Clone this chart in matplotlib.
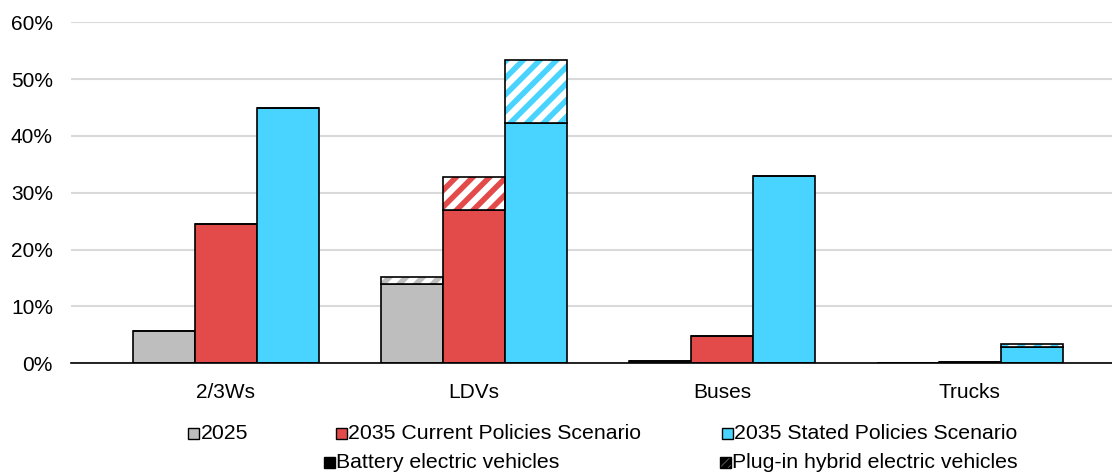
import numpy as np
import matplotlib.pyplot as plt
from matplotlib.patches import Rectangle
from matplotlib.ticker import PercentFormatter

plt.rcParams['font.family'] = ['Liberation Sans', 'DejaVu Sans']
plt.rcParams['hatch.linewidth'] = 4.0

categories = ["2/3Ws", "LDVs", "Buses", "Trucks"]
series = ["2025", "2035 Current Policies Scenario", "2035 Stated Policies Scenario"]
colors = ["#bebebe", "#e24b4a", "#48d4fe"]

# share of sales, %
bev = {
    "2025": [5.6, 13.9, 0.45, 0.1],
    "2035 Current Policies Scenario": [24.5, 27.0, 4.8, 0.15],
    "2035 Stated Policies Scenario": [44.9, 42.3, 32.9, 2.9],
}
phev = {
    "2025": [0.0, 1.2, 0.0, 0.0],
    "2035 Current Policies Scenario": [0.0, 5.8, 0.0, 0.0],
    "2035 Stated Policies Scenario": [0.0, 11.1, 0.0, 0.5],
}

W, H = 1112, 473
fig = plt.figure(figsize=(W / 100, H / 100), dpi=100)
ax = fig.add_axes([71 / W, 1 - 363.3 / H, 1 - 71 / W, (363.3 - 22.3) / H])

x = np.arange(len(categories))
width = 0.25
for i, s in enumerate(series):
    pos = x + (i - 1) * width
    ax.bar(pos, bev[s], width, color=colors[i], edgecolor="black", linewidth=1.2, zorder=3)
    # hatched PHEV part: stripes in series colour, then black outline
    ax.bar(pos, phev[s], width, bottom=bev[s], color="white", edgecolor=colors[i],
           hatch="//", linewidth=0, zorder=3)
    ax.bar(pos, phev[s], width, bottom=bev[s], fill=False, edgecolor="black",
           linewidth=1.2, zorder=4)

ax.set_xlim(-0.625, 3.573)
ax.set_ylim(0, 60)
ax.set_yticks(np.arange(0, 61, 10))
ax.yaxis.set_major_formatter(PercentFormatter(decimals=0))
ax.set_xticks(x)
ax.set_xticklabels(categories)
ax.tick_params(length=0, labelsize=15, colors="black")
ax.tick_params(axis="x", pad=14)
ax.tick_params(axis="y", pad=13)
ax.grid(axis="y", color="#d9d9d9", linewidth=1.5, zorder=0)
for side in ["left", "right", "top"]:
    ax.spines[side].set_visible(False)
ax.spines["bottom"].set_linewidth(1.2)
ax.spines["bottom"].set_zorder(5)

# legend drawn by hand to keep the two-row layout
legend_items = [
    (193, 433, "2025", colors[0], None),
    (341, 433, "2035 Current Policies Scenario", colors[1], None),
    (727, 433, "2035 Stated Policies Scenario", colors[2], None),
    (329, 462, "Battery electric vehicles", "black", None),
    (725, 462, "Plug-in hybrid electric vehicles", "white", "phev"),
]
sq = 11
for px, py, label, fc, kind in legend_items:
    fig.patches.append(Rectangle(((px - sq / 2) / W, 1 - (py + sq / 2) / H), sq / W, sq / H,
                                 transform=fig.transFigure, facecolor=fc, edgecolor="black",
                                 linewidth=1, hatch="////" if kind else None))
    fig.text((px + sq / 2 + 2) / W, 1 - py / H, label, ha="left", va="center", fontsize=15.3)

fig.savefig("out.png", dpi=100)
